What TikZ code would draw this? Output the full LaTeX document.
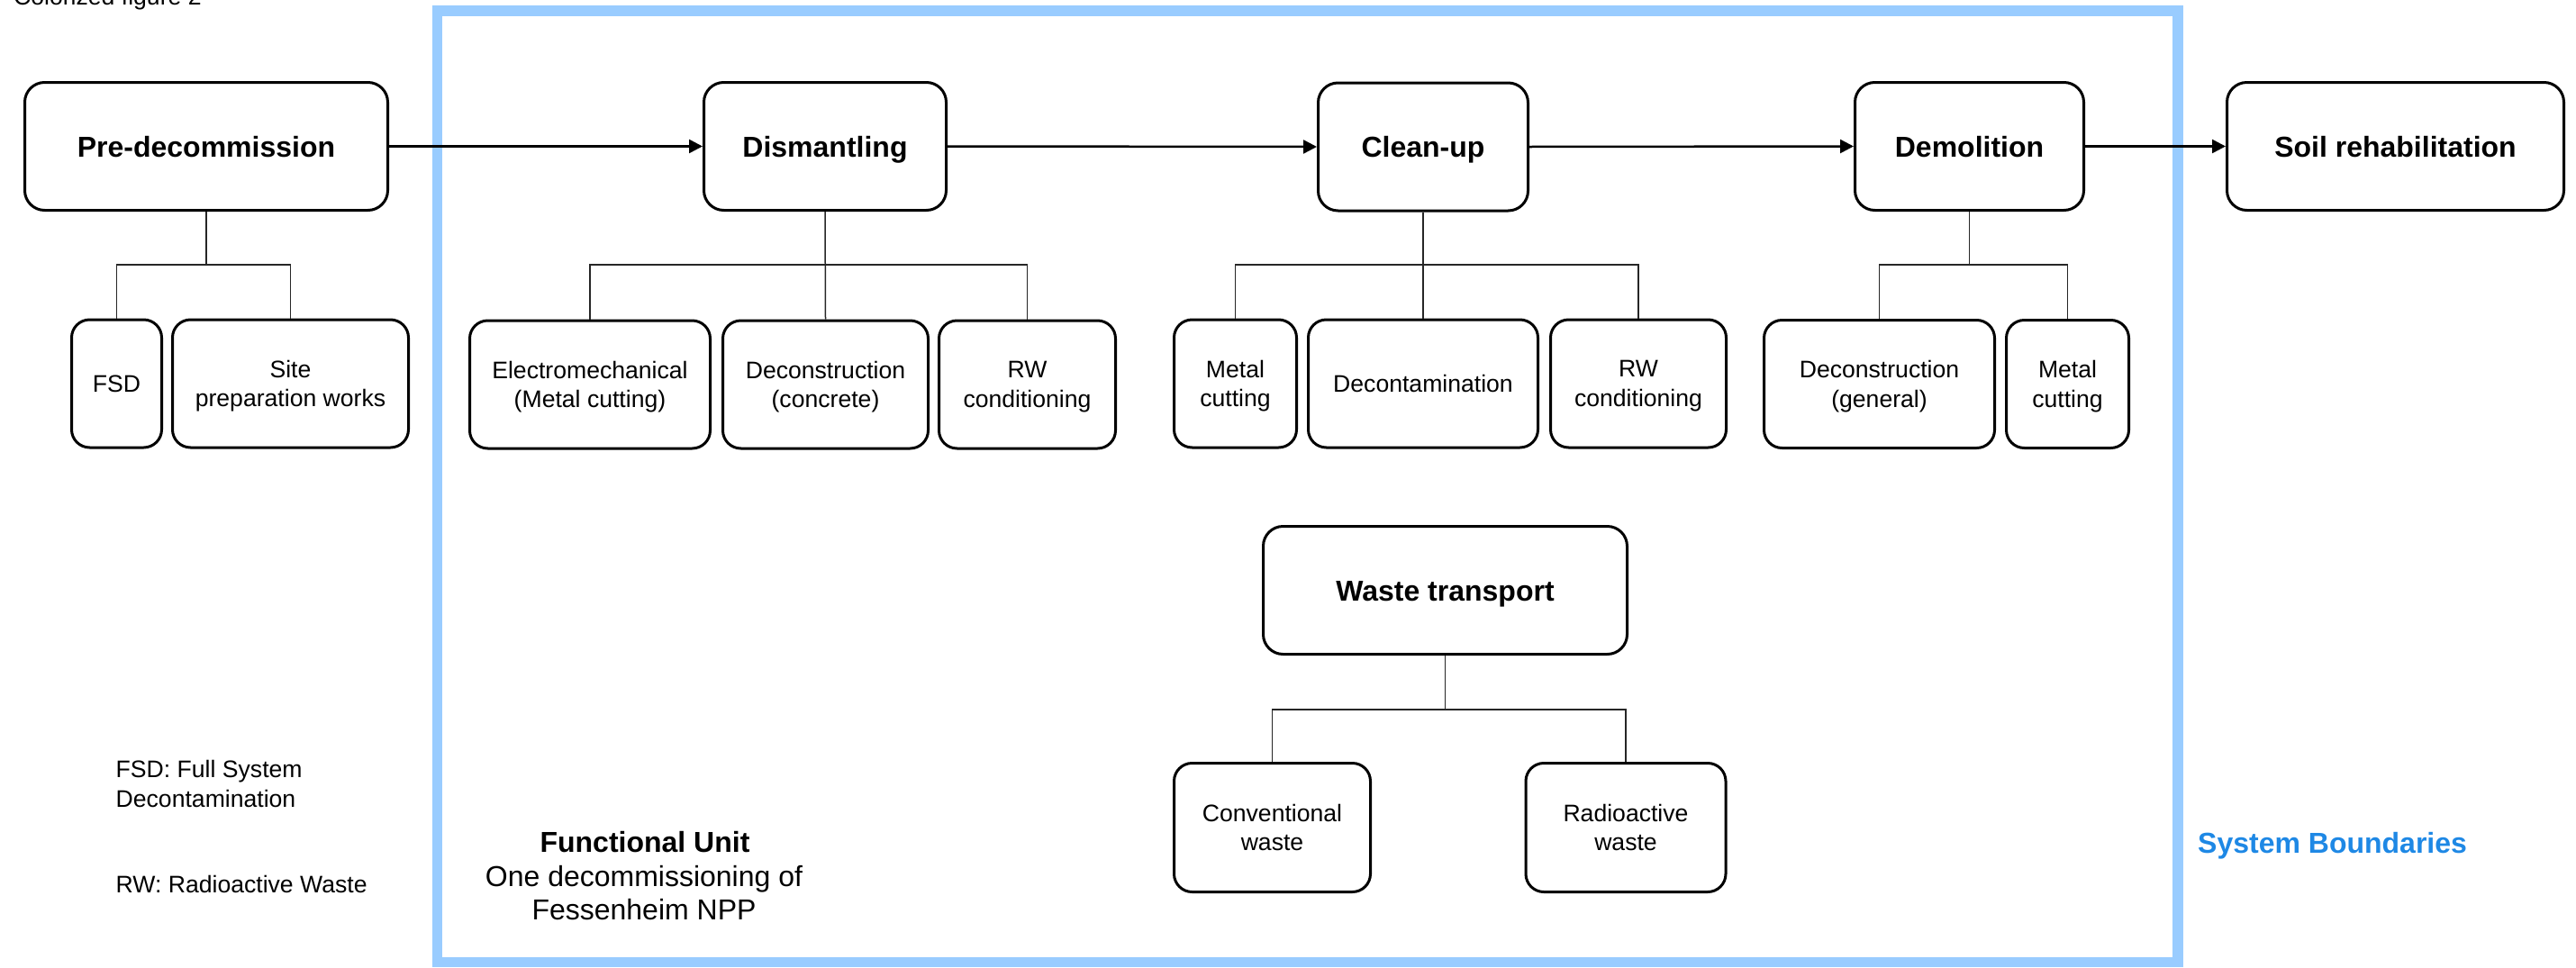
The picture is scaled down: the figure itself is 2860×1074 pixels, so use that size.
\documentclass[tikz,border=0pt]{standalone}
\usepackage{fontspec}
\setmainfont{Liberation Sans}
\usetikzlibrary{arrows.meta}
\definecolor{frameblue}{HTML}{99CCFF}
\definecolor{sbblue}{HTML}{1E88E5}
\begin{document}
\begin{tikzpicture}[x=1pt,y=-1pt,
  mainbox/.style={draw, line width=3pt, rounded corners=22pt, minimum height=142pt, align=center, font=\fontsize{32}{38}\selectfont\bfseries, inner sep=0pt, text height=23pt, text depth=0pt},
  subbox/.style={draw, line width=3pt, rounded corners=20pt, minimum height=142pt, align=center, font=\fontsize{26.6}{32.5}\selectfont, inner sep=0pt, text depth=0pt},
  flow/.style={line width=2.5pt, -{Triangle[length=15pt,width=15pt]}},
  tree/.style={line width=1.5pt, draw=black!85},
  plain/.style={inner sep=0pt, font=\fontsize{26.6}{32.5}\selectfont},
  fu/.style={inner sep=0pt, font=\fontsize{32}{38}\selectfont},
  bound/.style={draw=frameblue, line width=11.5pt}
]
\useasboundingbox (0,0) rectangle (2860,1074);

% system boundary frame
\draw[bound] (485.5,12) rectangle (2418,1068.5);

% header (cut off at the top edge, as in the reference)
\node[plain, anchor=base west] (title) at (15,5) {Colorized figure 2};

% main row
\node[mainbox, minimum width=403pt] (pre) at (229,162.5) {Pre-decommission};
\node[mainbox, minimum width=269pt] (dis) at (916,162.5) {Dismantling};
\node[mainbox, minimum width=233pt] (clean) at (1580,163) {Clean-up};
\node[mainbox, minimum width=254pt] (demo) at (2186.5,162.5) {Demolition};
\node[mainbox, minimum width=374pt] (soil) at (2659.5,162.5) {Soil rehabilitation};

% sub boxes
\node[subbox, minimum width=100pt] (fsd) at (129.5,426) {FSD};
\node[subbox, minimum width=262pt] (site) at (322.5,426) {Site\\preparation works};
\node[subbox, minimum width=267pt] (em) at (655,427) {Electromechanical\\(Metal cutting)};
\node[subbox, minimum width=228pt] (dc) at (916.5,427) {Deconstruction\\(concrete)};
\node[subbox, minimum width=196pt] (rwa) at (1140.5,427) {RW\\conditioning};
\node[subbox, minimum width=136pt] (mca) at (1371.5,426) {Metal\\cutting};
\node[subbox, minimum width=255pt] (decon) at (1580,426) {Decontamination};
\node[subbox, minimum width=195pt] (rwb) at (1819,426) {RW\\conditioning};
\node[subbox, minimum width=256pt] (dg) at (2086.5,426.5) {Deconstruction\\(general)};
\node[subbox, minimum width=136pt] (mcb) at (2295.5,426.5) {Metal\\cutting};

% waste transport
\node[mainbox, minimum width=404pt] (wt) at (1604.5,655.5) {Waste transport};
\node[subbox, minimum width=218pt, minimum height=143pt] (cw) at (1412.5,919) {Conventional\\waste};
\node[subbox, minimum width=222pt, minimum height=143pt] (ra) at (1805,919) {Radioactive\\waste};

% flow arrows
\draw[flow] (pre.east) -- (dis.west);
\draw[flow] (dis.east) -- (clean.west);
\draw[flow] (clean.east) -- (demo.west);
\draw[flow] (demo.east) -- (soil.west);

% tree connectors
\coordinate (bar) at (0,294);
\coordinate (barw) at (0,788);
\draw[tree] (pre.south) -- (pre.south |- bar);
\draw[tree] (fsd.north) -- (fsd.north |- bar) -- (site.north |- bar) -- (site.north);

\draw[tree] (dis.south) -- (dc.north);
\draw[tree] (em.north) -- (em.north |- bar) -- (rwa.north |- bar) -- (rwa.north);

\draw[tree] (clean.south) -- (decon.north);
\draw[tree] (mca.north) -- (mca.north |- bar) -- (rwb.north |- bar) -- (rwb.north);

\draw[tree] (demo.south) -- (demo.south |- bar);
\draw[tree] (dg.north) -- (dg.north |- bar) -- (mcb.north |- bar) -- (mcb.north);

\draw[tree] (wt.south) -- (wt.south |- barw);
\draw[tree] (cw.north) -- (cw.north |- barw) -- (ra.north |- barw) -- (ra.north);

% legend
\node[plain, anchor=base west] (lg1) at (128.5,863) {FSD: Full System};
\node[plain, anchor=base west] (lg2) at (128.5,896) {Decontamination};
\node[plain, anchor=base west] (lg3) at (128.5,991) {RW: Radioactive Waste};

% functional unit
\node[fu, anchor=base, font=\fontsize{32}{38}\selectfont\bfseries] (fu1) at (716,946) {Functional Unit};
\node[fu, anchor=base] (fu2) at (715,984) {One decommissioning of};
\node[fu, anchor=base] (fu3) at (715,1021) {Fessenheim NPP};

% system boundaries label
\node[inner sep=0pt, anchor=base west, text=sbblue, font=\fontsize{32}{38}\selectfont\bfseries] (sb) at (2440,947) {System Boundaries};
\end{tikzpicture}
\end{document}
